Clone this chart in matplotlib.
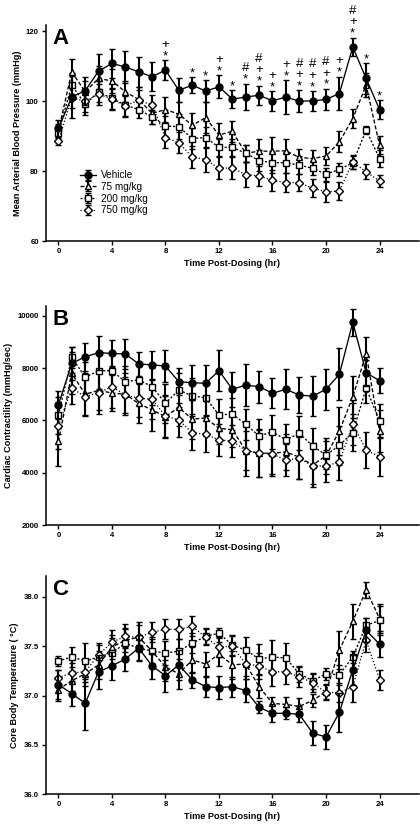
import matplotlib
matplotlib.use('Agg')
import matplotlib.pyplot as plt
from matplotlib.ticker import FormatStrFormatter

plt.rcParams['font.family'] = ['Liberation Sans', 'DejaVu Sans']

hours = list(range(25))
group_labels = ['Vehicle', '75 mg/kg', '200 mg/kg', '750 mg/kg']

# ---- Panel A: Mean arterial blood pressure (mmHg)
map_vehicle = [92.2, 101.2, 103.0, 108.6, 110.8, 109.8, 108.4, 107.0, 108.9, 103.1, 104.6, 102.9, 104.1,
               100.6, 101.2, 101.7, 100.1, 101.2, 100.0, 100.1, 100.5, 102.2, 115.5, 106.5, 97.6]
map_vehicle_sem = [2.5, 6.0, 4.0, 5.0, 4.2, 4.5, 4.3, 4.2, 2.8, 3.4, 2.2, 3.1, 3.3,
                   2.5, 3.8, 2.7, 2.8, 4.8, 3.1, 2.8, 3.0, 4.8, 2.7, 4.3, 2.7]
map_75 = [91.5, 108.4, 102.7, 106.5, 105.8, 102.7, 100.5, 96.5, 97.6, 96.3, 93.1, 95.3, 90.3,
          91.4, 85.1, 85.7, 85.7, 85.8, 83.9, 83.6, 84.3, 88.4, 95.0, 104.6, 87.4]
map_75_sem = [2.0, 3.8, 3.0, 3.5, 3.5, 3.0, 3.5, 3.0, 3.5, 3.5, 3.5, 4.5, 3.5,
              3.0, 2.5, 3.5, 4.0, 3.5, 2.5, 2.5, 2.5, 3.0, 2.8, 3.5, 2.5]
map_200 = [91.0, 104.6, 99.1, 102.7, 100.8, 98.9, 97.6, 95.5, 92.9, 92.7, 89.3, 89.6, 86.8,
           86.8, 85.1, 83.0, 82.4, 82.4, 81.7, 80.8, 79.1, 80.5, 82.4, 91.7, 83.6]
map_200_sem = [2.0, 3.5, 3.0, 3.0, 3.0, 3.0, 2.5, 2.0, 3.0, 3.5, 3.0, 3.0, 2.5,
               2.5, 2.5, 3.0, 3.0, 3.0, 2.5, 2.0, 1.8, 1.8, 1.8, 1.2, 2.5]
map_750 = [88.7, 101.0, 100.0, 102.0, 100.6, 98.6, 100.3, 98.9, 89.6, 88.1, 84.1, 83.3, 80.8,
           80.9, 79.0, 78.6, 77.4, 76.7, 76.7, 75.1, 74.1, 74.3, 82.6, 79.8, 77.2]
map_750_sem = [1.2, 3.0, 3.0, 3.0, 3.0, 3.0, 3.0, 3.0, 3.0, 3.0, 3.2, 3.5, 3.2,
               3.2, 3.5, 3.0, 3.0, 2.8, 2.5, 2.5, 2.8, 2.5, 2.0, 2.2, 1.8]
# significance symbols above vehicle (top to bottom)
map_sig_hours = [8, 10, 11, 12, 13, 14, 15, 16, 17, 18, 19, 20, 21, 22, 23, 24]
map_sig_marks = ['+\n*', '*', '*', '+\n*', '*', '#\n*', '#\n+\n*', '+\n*', '+\n*', '#\n+\n*',
                 '#\n+\n*', '#\n+\n*', '+\n*', '#\n+\n*', '*', '*']

# ---- Panel B: Cardiac contractility (mmHg/sec)
cc_vehicle = [6600, 8180, 8430, 8590, 8560, 8540, 8160, 8120, 8080, 7480, 7440, 7420, 7900,
              7190, 7350, 7290, 7040, 7190, 6970, 6930, 7190, 7760, 9750, 7820, 7520]
cc_vehicle_sem = [540, 630, 540, 650, 500, 560, 470, 540, 600, 520, 660, 680, 780,
                  670, 800, 610, 570, 760, 675, 760, 780, 990, 510, 500, 470]
cc_75 = [5200, 7800, 7000, 7150, 7050, 7000, 6650, 6400, 6150, 6500, 6050, 6100, 5700,
         5650, 4850, 4750, 4750, 4800, 4600, 4300, 4650, 5600, 6900, 8550, 5600]
cc_75_sem = [950, 800, 800, 750, 700, 800, 750, 800, 800, 700, 750, 700, 600,
             650, 950, 900, 850, 700, 850, 850, 700, 900, 800, 650, 800]
cc_200 = [6200, 8410, 7650, 7900, 7900, 7480, 7550, 7290, 6660, 7160, 6940, 6870, 6210,
          6250, 5850, 5410, 5570, 5260, 5510, 5030, 4680, 5050, 5540, 7230, 5990]
cc_200_sem = [700, 400, 600, 700, 650, 600, 650, 700, 750, 650, 700, 650, 600,
              600, 600, 650, 650, 600, 650, 700, 550, 750, 700, 550, 650]
cc_750 = [5800, 7230, 6910, 7060, 7290, 6970, 6850, 6810, 6170, 6020, 5530, 5480, 5250,
          5220, 4850, 4760, 4720, 4490, 4560, 4270, 4260, 4420, 5870, 4870, 4620]
cc_750_sem = [900, 600, 750, 800, 800, 700, 700, 750, 800, 650, 650, 700, 600,
              600, 750, 900, 750, 600, 800, 700, 600, 700, 800, 700, 750]

# ---- Panel C: Core body temperature (deg C)
ct_vehicle = [37.11, 37.02, 36.92, 37.24, 37.30, 37.37, 37.48, 37.30, 37.20, 37.31, 37.16, 37.09, 37.08,
              37.09, 37.05, 36.88, 36.82, 36.82, 36.81, 36.62, 36.58, 36.83, 37.26, 37.66, 37.52]
ct_vehicle_sem = [0.15, 0.13, 0.27, 0.17, 0.14, 0.12, 0.13, 0.13, 0.16, 0.15, 0.08, 0.10, 0.12,
                  0.10, 0.12, 0.06, 0.09, 0.06, 0.08, 0.12, 0.12, 0.20, 0.15, 0.12, 0.13]
ct_75 = [37.06, 37.15, 37.22, 37.31, 37.49, 37.56, 37.59, 37.45, 37.29, 37.22, 37.36, 37.32, 37.42,
         37.31, 37.32, 37.09, 36.92, 36.91, 36.89, 36.95, 37.04, 37.46, 37.75, 38.07, 37.78]
ct_75_sem = [0.12, 0.10, 0.12, 0.14, 0.12, 0.12, 0.15, 0.14, 0.14, 0.15, 0.13, 0.12, 0.12,
             0.14, 0.15, 0.12, 0.07, 0.07, 0.08, 0.07, 0.08, 0.19, 0.18, 0.08, 0.15]
ct_200 = [37.35, 37.39, 37.35, 37.39, 37.43, 37.53, 37.48, 37.45, 37.43, 37.45, 37.53, 37.60, 37.63,
          37.51, 37.46, 37.37, 37.39, 37.38, 37.22, 37.15, 37.22, 37.21, 37.39, 37.71, 37.76]
ct_200_sem = [0.05, 0.10, 0.18, 0.12, 0.15, 0.14, 0.12, 0.12, 0.12, 0.12, 0.10, 0.08, 0.05,
              0.10, 0.13, 0.15, 0.17, 0.15, 0.08, 0.08, 0.06, 0.10, 0.06, 0.07, 0.15]
ct_750 = [37.18, 37.23, 37.24, 37.41, 37.54, 37.60, 37.59, 37.64, 37.67, 37.67, 37.70, 37.59, 37.49,
          37.50, 37.32, 37.30, 37.24, 37.24, 37.19, 37.13, 37.03, 37.03, 37.09, 37.56, 37.16]
ct_750_sem = [0.08, 0.10, 0.10, 0.12, 0.12, 0.12, 0.12, 0.10, 0.10, 0.10, 0.10, 0.08, 0.10,
              0.10, 0.12, 0.13, 0.14, 0.12, 0.10, 0.09, 0.08, 0.10, 0.16, 0.12, 0.10]

styles = [
    dict(marker='o', mfc='black', ms=5.0, ls='-', dashes=None),
    dict(marker='^', mfc='white', ms=4.6, ls='--', dashes=(3.0, 1.6)),
    dict(marker='s', mfc='white', ms=4.2, ls='--', dashes=(1.6, 1.4)),
    dict(marker='D', mfc='white', ms=3.8, ls=':', dashes=(0.9, 1.6)),
]

fig = plt.figure(figsize=(4.2, 8.25), dpi=100)
ax_left = 45.7 / 420
ax_w = (419 - 45.7) / 420


def panel(rect, series, ylim, yticks, ylabel, letter, fmt=None):
    ax = fig.add_axes(rect)
    order = [1, 2, 3, 0]
    for i in order:
        m, s = series[i]
        st = styles[i]
        eb = ax.errorbar(hours, m, yerr=s, color='black', ecolor='black', elinewidth=1.5,
                         capsize=2.4, capthick=1.5, marker=st['marker'], mfc=st['mfc'],
                         mec='black', mew=1.0, ms=st['ms'], lw=0.95, ls=st['ls'],
                         label=group_labels[i], zorder=3 if i == 0 else 2)
        if st['dashes'] is not None:
            eb[0].set_dashes(st['dashes'])
    ax.set_xlim(-0.95, 26.95)
    ax.set_ylim(*ylim)
    ax.set_xticks(range(0, 25, 4))
    ax.set_yticks(yticks)
    if fmt:
        ax.yaxis.set_major_formatter(FormatStrFormatter(fmt))
    for sp in ['top', 'right']:
        ax.spines[sp].set_visible(False)
    for sp in ['left', 'bottom']:
        ax.spines[sp].set_linewidth(1.1)
    ax.tick_params(direction='out', length=3, width=1.0, labelsize=5.6, pad=2)
    for lab in ax.get_xticklabels() + ax.get_yticklabels():
        lab.set_fontweight('bold')
    ax.set_xlabel('Time Post-Dosing (hr)', fontsize=6.6, fontweight='bold', labelpad=3)
    ax.set_ylabel(ylabel, fontsize=6.6, fontweight='bold', labelpad=3)
    ax.text(0.018, 0.985, letter, transform=ax.transAxes, fontsize=16, fontweight='bold',
            va='top', ha='left')
    return ax


axA = panel([ax_left, 1 - 241 / 825, ax_w, (241 - 25) / 825],
            [(map_vehicle, map_vehicle_sem), (map_75, map_75_sem), (map_200, map_200_sem),
             (map_750, map_750_sem)],
            (60, 121.8), [60, 80, 100, 120], 'Mean Arterial Blood Pressure (mmHg)', 'A')

# significance marks, stacked as one text per time point
for h, marks in zip(map_sig_hours, map_sig_marks):
    top = map_vehicle[h] + map_vehicle_sem[h]
    axA.annotate(marks, xy=(h, top), xytext=(0, -1.4), textcoords='offset points',
                 ha='center', va='bottom', fontsize=9.5, linespacing=0.93,
                 multialignment='center', clip_on=False)

handles, labels = axA.get_legend_handles_labels()
hmap = dict(zip(labels, handles))
axA.legend([hmap[l] for l in group_labels], group_labels, loc='upper left',
           bbox_to_anchor=(76 / 420, 1 - 166 / 825), bbox_transform=fig.transFigure,
           frameon=False, fontsize=7.2, handlelength=1.6, handletextpad=0.5,
           labelspacing=0.18, borderaxespad=0)

panel([ax_left, 1 - 525.3 / 825, ax_w, (525.3 - 306) / 825],
      [(cc_vehicle, cc_vehicle_sem), (cc_75, cc_75_sem), (cc_200, cc_200_sem), (cc_750, cc_750_sem)],
      (2000, 10370), [2000, 4000, 6000, 8000, 10000], 'Cardiac Contractility (mmHg/sec)', 'B')

panel([ax_left, 1 - 794.3 / 825, ax_w, (794.3 - 576) / 825],
      [(ct_vehicle, ct_vehicle_sem), (ct_75, ct_75_sem), (ct_200, ct_200_sem), (ct_750, ct_750_sem)],
      (36.0, 38.21), [36.0, 36.5, 37.0, 37.5, 38.0], 'Core Body Temperature ( \u00b0C)', 'C', fmt='%.1f')

fig.savefig('out.png', dpi=100)
